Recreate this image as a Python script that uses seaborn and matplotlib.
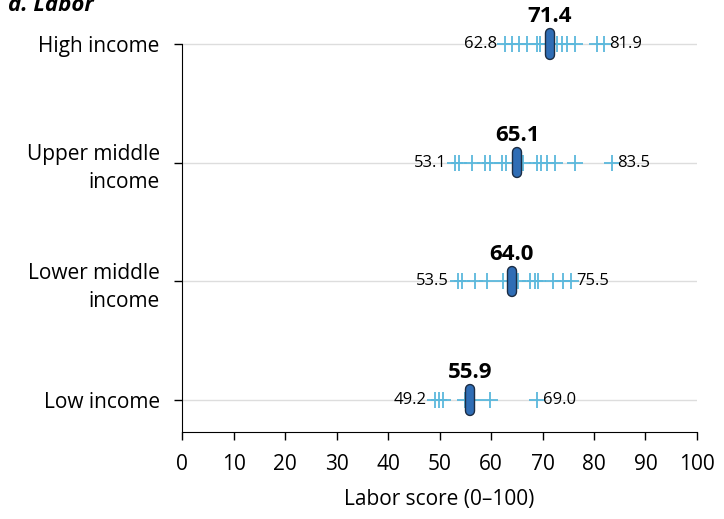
import pandas as pd
import seaborn as sns
import matplotlib.pyplot as plt
import matplotlib.patheffects as pe

# income groups, top to bottom
groups = ["High income", "Upper middle income", "Lower middle income", "Low income"]
group_labels = ["High income", "Upper middle\nincome", "Lower middle\nincome", "Low income"]

# country scores per group
high = [62.8, 64.0, 65.5, 66.9, 68.9, 69.5, 72.8, 73.7, 74.7, 76.3, 80.5, 81.9]
upper_mid = [53.1, 53.7, 56.3, 58.8, 59.8, 62.1, 63.0, 66.3, 68.9, 69.8, 70.8, 72.4, 76.3, 83.5]
lower_mid = [53.5, 54.3, 56.9, 59.2, 62.4, 65.3, 67.6, 68.5, 69.2, 72.1, 74.0, 75.5]
low = [49.2, 49.9, 50.6, 55.0, 56.7, 59.8, 69.0]

medians = [71.4, 65.1, 64.0, 55.9]

rows = []
for g, vals in zip(groups, [high, upper_mid, lower_mid, low]):
    for v in vals:
        rows.append({"group": g, "score": v})
df = pd.DataFrame(rows)

sns.set_style("white")
plt.rcParams['font.family'] = ['Open Sans', 'DejaVu Sans']
plt.rcParams['text.color'] = 'black'
plt.rcParams['axes.labelcolor'] = 'black'
plt.rcParams['xtick.color'] = 'black'
plt.rcParams['ytick.color'] = 'black'

fig = plt.figure(figsize=(7.24, 5.19), dpi=100)
ax = fig.add_axes([0.2514, 0.1676, 0.7113, 0.8162])

# light horizontal guide lines
for i in range(len(groups)):
    ax.axhline(i, color="#dddddd", lw=1, zorder=0)

sns.stripplot(data=df, x="score", y="group", order=groups, jitter=False,
              marker="+", size=11, linewidth=1.3, color="#5bb8dc", ax=ax, zorder=3)

for i, g in enumerate(groups):
    vals = df.loc[df.group == g, "score"]
    m = medians[i]
    ax.plot([m, m], [i - 0.09, i + 0.09], color="#2f6db5", lw=5.5,
            solid_capstyle="round", zorder=5,
            path_effects=[pe.Stroke(linewidth=7.5, foreground="#1c2d44"), pe.Normal()])
    ax.annotate(f"{m:.1f}", (m, i), xytext=(0, 12), textcoords="offset points",
                ha="center", va="bottom", fontsize=16, fontweight="bold")
    ax.annotate(f"{vals.min():.1f}", (vals.min(), i), xytext=(-6, 0), textcoords="offset points",
                ha="right", va="center", fontsize=12)
    ax.annotate(f"{vals.max():.1f}", (vals.max(), i), xytext=(4, 0), textcoords="offset points",
                ha="left", va="center", fontsize=12)

ax.set_xlim(0, 100)
ax.set_ylim(3.27, -0.3)
ax.set_xticks(range(0, 101, 10))
ax.set_yticks(range(len(groups)))
ax.set_yticklabels(group_labels, fontsize=15, linespacing=1.45)
ax.tick_params(axis="x", labelsize=15, length=6, width=1, direction="out", pad=10, bottom=True)
ax.tick_params(axis="y", length=6, width=1, direction="out", pad=10, left=True)
ax.set_xlabel("Labor score (0–100)", fontsize=15, labelpad=10)
ax.set_ylabel("")

for s in ["top", "right"]:
    ax.spines[s].set_visible(False)
ax.spines["left"].set_bounds(3.27, 0)
ax.spines["left"].set_color("black")
ax.spines["bottom"].set_color("black")

fig.text(0.011, 0.978, "d. Labor", fontsize=16, fontweight="bold", style="italic", va="baseline")

fig.savefig("out.png", dpi=100)
